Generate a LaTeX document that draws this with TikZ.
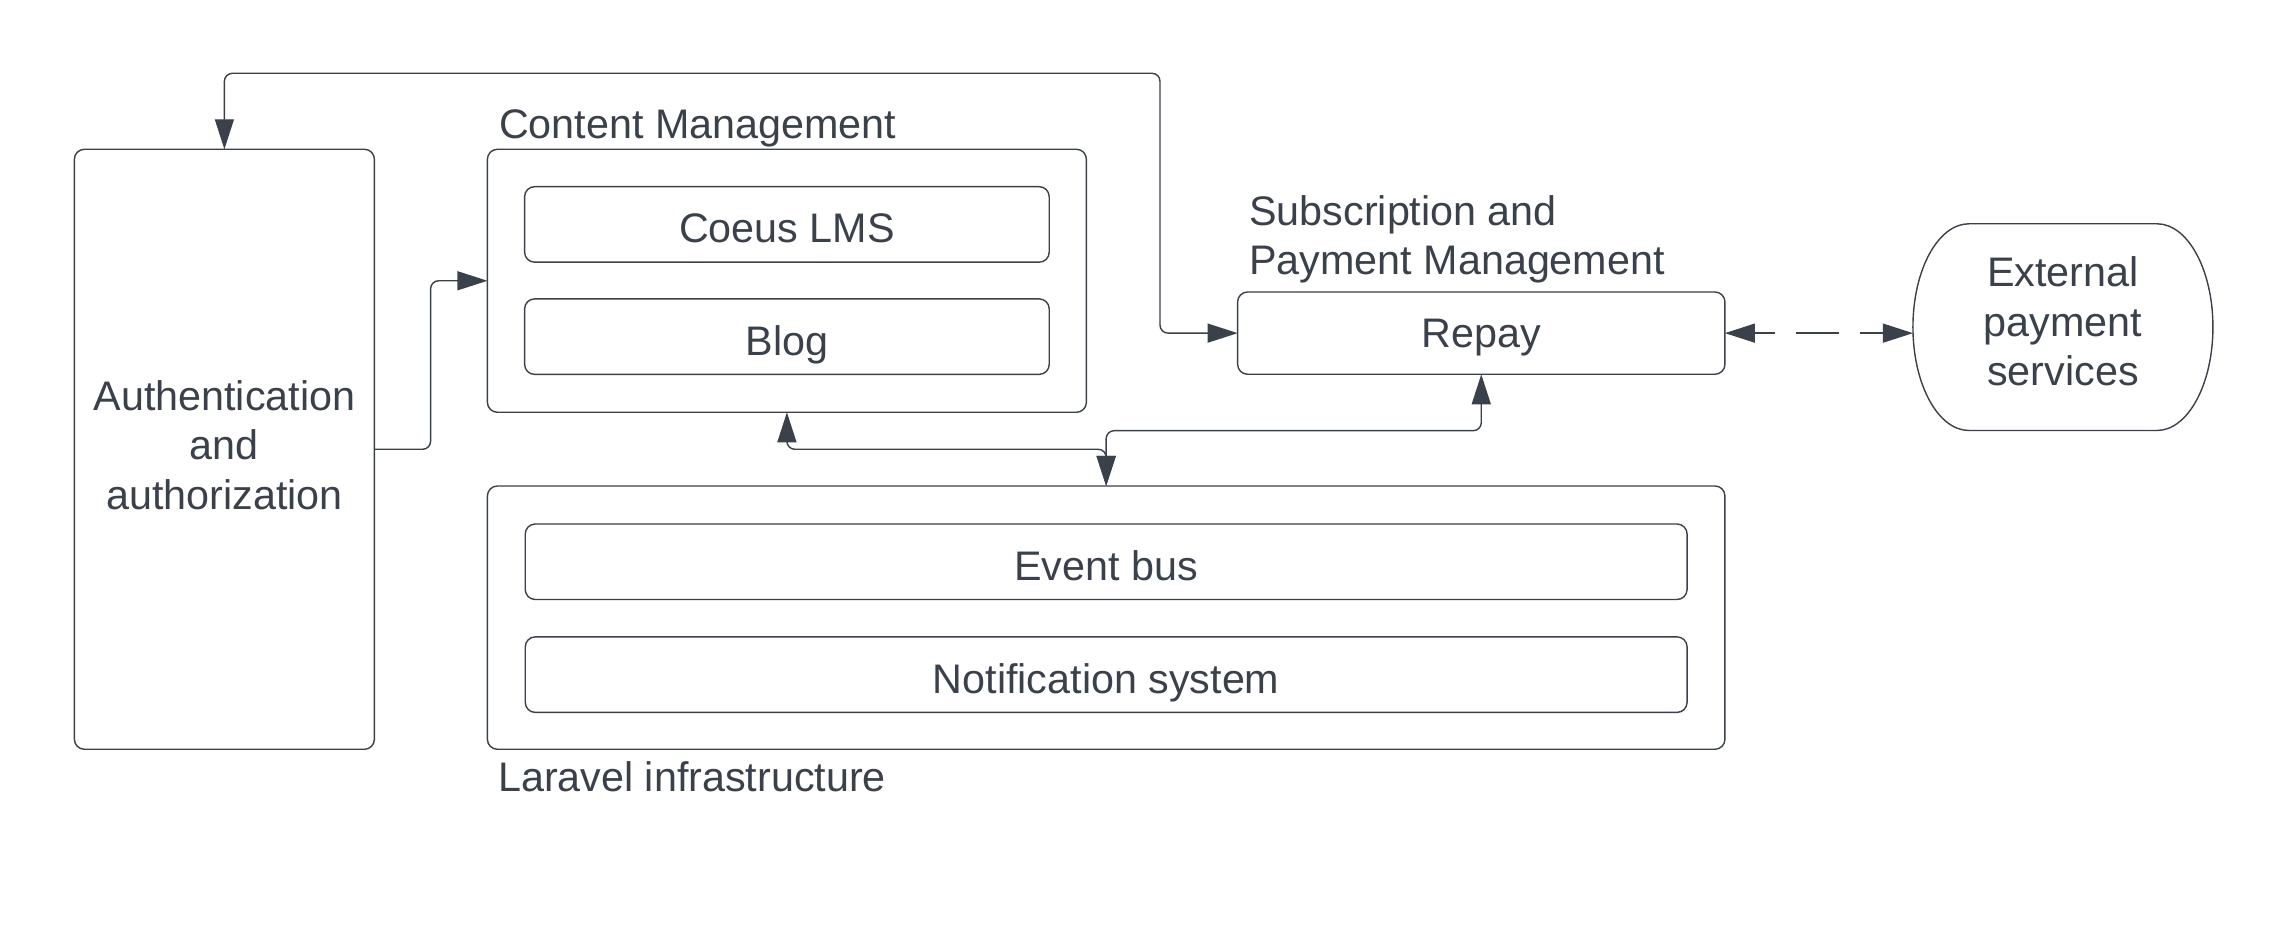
\documentclass[tikz,border=0pt]{standalone}
\usepackage{fontspec}
\setmainfont{Liberation Sans}
\usepackage{xcolor}
\usepackage{tikz}
\usetikzlibrary{arrows.meta, calc, positioning}
\definecolor{ink}{HTML}{3A414A}
\tikzset{
	node distance = 3.7mm,
	line width = .6pt,
	>={Triangle[length=3mm, width=1.9mm]},
	font = \fontsize{11.75pt}{14.1pt}\selectfont,
	box/.style={
		draw=ink,
		text=ink,
		rounded corners=1mm,
		outer sep=0pt,
		inner sep=0pt,
		align=center
	},
	part/.style={
		box,
		minimum height=7.55mm,
		text height=3.7mm,
		text depth=0pt
	},
	stack/.style={
		text height=11.7mm,
		text depth=0pt
	},
	caption/.style={
		text=ink,
		inner sep=0pt,
		align=left,
		anchor=base west
	},
	edge/.style={
		->,
		draw=ink,
		rounded corners=.8mm
	},
	link/.style={
		edge,
		<->
	}
}

\begin{document}
\begin{tikzpicture}[x=1mm, y=1mm]
		\useasboundingbox (0,0) rectangle (228.8,93.9);

		\node[box, stack, text height=12mm, minimum width=30mm, minimum height=60mm] (auth) at (22.44,48.97) {Authentication\\and\\authorization};
		\node[box, minimum width=59.9mm, minimum height=26.3mm, below right=0mm and 11.3mm of auth.north east] (cms) {};
		\node[part, minimum width=52.46mm, below=3.74mm of cms.north] (lms) {Coeus LMS};
		\node[part, minimum width=52.46mm, below=3.67mm of lms] (blog) {Blog};

		\node[box, minimum width=123.75mm, minimum height=26.33mm, below right=7.37mm and 0mm of cms.south west] (infra) {};
		\node[part, minimum width=116.18mm, below=3.8mm of infra.north] (bus) {Event bus};
		\node[part, minimum width=116.18mm, below=3.74mm of bus] (notif) {Notification system};

		\node[box, minimum width=48.73mm, minimum height=8.23mm, text height=2.9mm, text depth=0pt, above left=11.17mm and 0mm of infra.north east] (repay) {Repay};
		\node[stack, minimum width=30mm, minimum height=20.67mm, inner sep=0pt, outer sep=0pt, text=ink, align=center, right=18.8mm of repay, yshift=.6mm] (ext) {External\\payment\\services};
		\draw[ink] ([xshift=5.6mm]ext.north west) -- ([xshift=-5.6mm]ext.north east)
			arc[start angle=90, end angle=-90, x radius=5.6mm, y radius=10.335mm]
			-- ([xshift=5.6mm]ext.south west)
			arc[start angle=270, end angle=90, x radius=5.6mm, y radius=10.335mm] -- cycle;

		\node[caption] (cmslabel) at ([shift={(1.1mm,1.1mm)}]cms.north west) {Content Management};
		\node[caption] (paylabel) at ([shift={(1.1mm,1.73mm)}]repay.north west) {Subscription and\\Payment Management};
		\node[caption] (infralabel) at ([shift={(1mm,-4.24mm)}]infra.south west) {Laravel infrastructure};

		\coordinate (rail) at (116,86.57);
		\draw[link] (auth.north) |- (rail) |- (repay.west);
		\draw[edge] (auth.east) -- ++(5.62,0) |- (cms.west);
		\draw[link] (cms.south) -- ++(0,-3.7) -| (infra.north);
		\draw[link] (repay.south) -- ++(0,-5.64) -| (infra.north);
		\draw[link, dash pattern=on 4.3mm off 2.1mm, dash phase=2.3mm] (repay.east) -- (repay.east -| ext.west);
	\end{tikzpicture}
\end{document}
